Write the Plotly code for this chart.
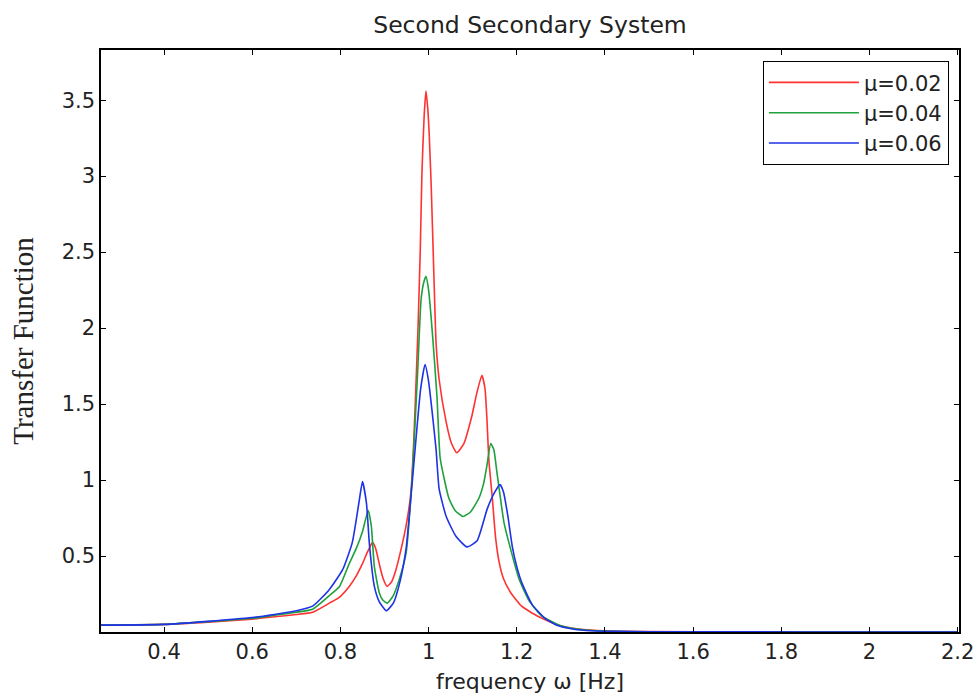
import plotly.graph_objects as go

title_text = "Second Secondary System"
x_title = "frequency ω [Hz]"
y_title = "Transfer Function"
x_ticks = [0.4, 0.6, 0.8, 1.0, 1.2, 1.4, 1.6, 1.8, 2.0, 2.2]
x_tick_labels = ["0.4", "0.6", "0.8", "1", "1.2", "1.4", "1.6", "1.8", "2", "2.2"]
y_ticks = [0.5, 1.0, 1.5, 2.0, 2.5, 3.0, 3.5]
y_tick_labels = ["0.5", "1", "1.5", "2", "2.5", "3", "3.5"]

names = ["μ=0.02", "μ=0.04", "μ=0.06"]

f_red = [0.25, 0.4, 0.5, 0.6, 0.65, 0.7, 0.737, 0.775, 0.798, 0.82, 0.836, 0.85, 0.862,
         0.873, 0.88, 0.888, 0.897, 0.906, 0.916, 0.926, 0.938, 0.949, 0.96, 0.967, 0.976,
         0.981, 0.985, 0.99, 0.994, 0.998, 1.001, 1.006, 1.012, 1.017, 1.024, 1.04, 1.052,
         1.064, 1.08, 1.098, 1.11, 1.121, 1.128, 1.132, 1.137, 1.144, 1.152, 1.16, 1.17,
         1.186, 1.211, 1.25, 1.295, 1.34, 1.4, 1.5, 1.7, 2.0, 2.2]
h_red = [0.045, 0.05, 0.065, 0.085, 0.1, 0.115, 0.13, 0.19, 0.23, 0.3, 0.37, 0.45, 0.53,
         0.59, 0.55, 0.45, 0.35, 0.3, 0.33, 0.41, 0.55, 0.7, 0.92, 1.3, 2.0,
         2.5, 3.03, 3.4, 3.56, 3.45, 3.3, 2.93, 2.35, 1.9, 1.66, 1.38, 1.24,
         1.18, 1.24, 1.42, 1.58, 1.69, 1.6, 1.42, 1.12, 0.9, 0.62, 0.46, 0.35,
         0.26, 0.17, 0.1, 0.045, 0.02, 0.008, 0.003, 0.001, 0.0, 0.0]

f_green = [0.25, 0.4, 0.5, 0.6, 0.65, 0.7, 0.737, 0.775, 0.798, 0.82, 0.836, 0.85, 0.863,
           0.87, 0.877, 0.888, 0.896, 0.906, 0.92, 0.935, 0.949, 0.963, 0.975, 0.983, 0.989,
           0.994, 1.0, 1.008, 1.019, 1.026, 1.036, 1.046, 1.06, 1.078, 1.095, 1.114, 1.125,
           1.132, 1.141, 1.148, 1.155, 1.163, 1.171, 1.182, 1.205, 1.227, 1.257, 1.302,
           1.35, 1.4, 1.5, 1.7, 2.0, 2.2]
h_green = [0.045, 0.05, 0.068, 0.09, 0.11, 0.13, 0.15, 0.24, 0.3, 0.45, 0.55, 0.66, 0.8,
           0.7, 0.43, 0.26, 0.21, 0.19, 0.24, 0.36, 0.52, 1.03, 1.7, 2.19, 2.3,
           2.34, 2.25, 1.99, 1.55, 1.15, 1.0, 0.88, 0.8, 0.76, 0.79, 0.88, 0.98,
           1.09, 1.24, 1.2, 1.05, 0.88, 0.72, 0.59, 0.35, 0.21, 0.105, 0.04,
           0.015, 0.006, 0.002, 0.001, 0.0, 0.0]

f_blue = [0.25, 0.4, 0.5, 0.6, 0.65, 0.7, 0.737, 0.775, 0.805, 0.827, 0.843, 0.85, 0.859,
          0.866, 0.877, 0.888, 0.904, 0.92, 0.935, 0.949, 0.963, 0.972, 0.982, 0.992, 1.0,
          1.008, 1.017, 1.024, 1.04, 1.062, 1.087, 1.11, 1.133, 1.15, 1.162, 1.17, 1.18,
          1.19, 1.2, 1.212, 1.235, 1.264, 1.293, 1.33, 1.37, 1.42, 1.5, 1.7, 2.0, 2.2]
h_blue = [0.045, 0.05, 0.07, 0.095, 0.115, 0.14, 0.17, 0.28, 0.41, 0.59, 0.87, 0.99, 0.85,
          0.57, 0.3, 0.2, 0.14, 0.19, 0.33, 0.55, 0.99, 1.29, 1.6, 1.76, 1.65,
          1.45, 1.2, 0.94, 0.76, 0.63, 0.56, 0.6, 0.81, 0.92, 0.97, 0.92, 0.76,
          0.56, 0.43, 0.32, 0.18, 0.09, 0.042, 0.018, 0.008, 0.004, 0.002, 0.001, 0.0, 0.0]

colors = ["rgb(255,50,50)", "rgb(30,160,60)", "rgb(30,50,230)"]

fig = go.Figure()
for f, h, n, c in zip([f_red, f_green, f_blue], [h_red, h_green, h_blue], names, colors):
    fig.add_trace(go.Scatter(x=f, y=h, mode="lines", name=n,
                             line=dict(color=c, width=1.6, shape="spline", smoothing=0.5)))

tick_font = dict(family="DejaVu Sans", size=21, color="#222")
axis_common = dict(showline=True, linecolor="black", linewidth=1.5, mirror="ticks",
                   ticks="inside", ticklen=5, tickcolor="black", showgrid=False,
                   zeroline=False, tickfont=tick_font, automargin=False,
                   ticklabeloverflow="allow")

fig.update_layout(
    template="none",
    width=979, height=696,
    margin=dict(l=101, r=20, t=50, b=64),
    paper_bgcolor="white", plot_bgcolor="white",
    title=dict(text=title_text, x=0.5, xref="paper", xanchor="center", y=0.965,
               yanchor="middle",
               font=dict(family="DejaVu Sans", size=23.5, color="#222")),
    xaxis=dict(range=[0.257, 2.203], tickvals=x_ticks, ticktext=x_tick_labels,
               title=dict(text=x_title, standoff=11,
                          font=dict(family="DejaVu Sans", size=22, color="#222")),
               **axis_common),
    yaxis=dict(range=[0, 3.83], tickvals=y_ticks, ticktext=y_tick_labels,
               title=dict(text=y_title, standoff=19,
                          font=dict(family="Liberation Serif", size=29, color="#222")),
               **axis_common),
    legend=dict(x=0.988, y=0.981, xanchor="right", yanchor="top",
                bgcolor="white", bordercolor="black", borderwidth=1.2,
                font=dict(family="DejaVu Sans", size=21, color="#222"),
                itemwidth=90, entrywidth=96, entrywidthmode="pixels",
                tracegroupgap=0),
    showlegend=True,
)

fig.write_html("out.html")
